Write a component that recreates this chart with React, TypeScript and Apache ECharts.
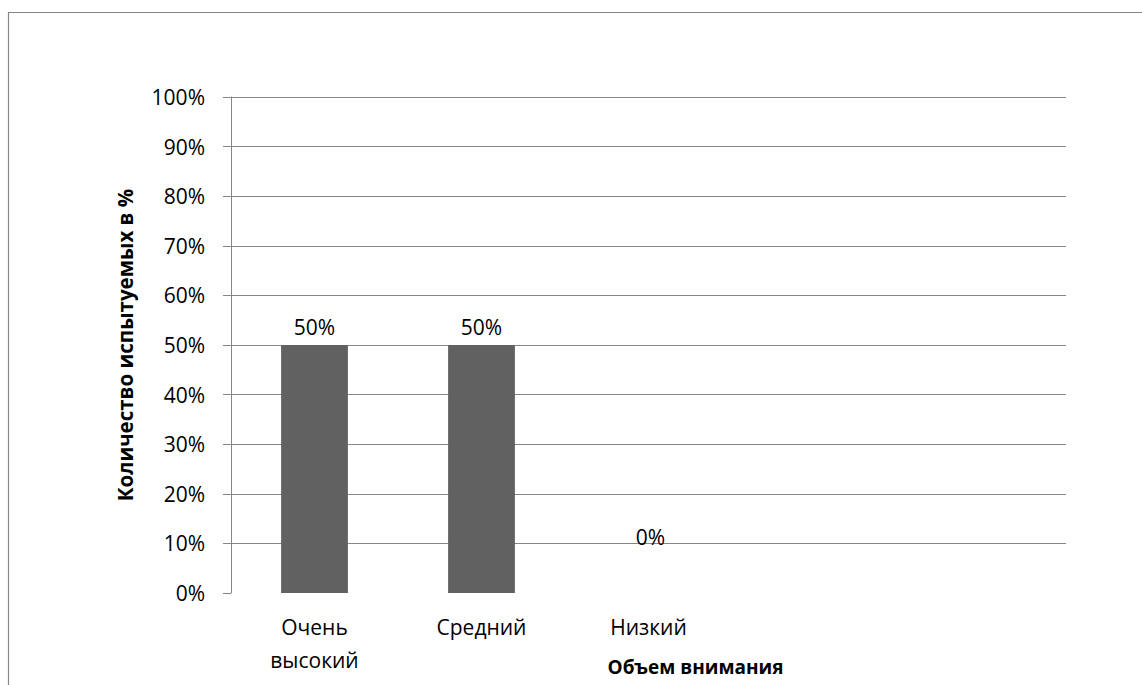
import React, { useEffect, useRef } from "react";
import * as echarts from "echarts";

const categories = ["Очень\nвысокий", "Средний", "Низкий", "", ""];
const values = [50, 50, 0];
const yTicks = [0, 10, 20, 30, 40, 50, 60, 70, 80, 90, 100];
const xTitle = "Объем внимания";
const yTitle = "Количество испытуемых в %";

const FONT = "'Open Sans', 'DejaVu Sans', sans-serif";
const GRAY = "#868686";

export default function App() {
  const ref = useRef<HTMLDivElement>(null);
  useEffect(() => {
    if (!ref.current) return;
    const chart = echarts.init(ref.current, null, { renderer: "svg" });
    const splitColors = yTicks.map((v) => (v === 0 ? "rgba(0,0,0,0)" : GRAY));
    chart.setOption({
      animation: false,
      backgroundColor: "#ffffff",
      textStyle: { fontFamily: FONT },
      graphic: [
        {
          type: "rect",
          shape: { x: 8.5, y: 12.5, width: 1400, height: 900 },
          style: { fill: "none", stroke: GRAY, lineWidth: 1.2 },
          silent: true,
        },
      ],
      grid: {
        left: 231,
        top: 97,
        right: 76,
        bottom: 92,
        containLabel: false,
        outerBoundsMode: "none",
      },
      xAxis: {
        type: "category",
        data: categories,
        axisLine: { show: false },
        axisTick: { show: false },
        axisLabel: {
          color: "#000",
          fontSize: 21,
          fontFamily: FONT,
          lineHeight: 33,
          margin: 17,
          interval: 0,
        },
        name: xTitle,
        nameLocation: "middle",
        nameGap: 64,
        nameMoveOverlap: false,
        nameTextStyle: {
          color: "#000",
          fontSize: 19,
          fontWeight: "bold",
          fontFamily: FONT,
          padding: [0, 0, 0, 94],
        },
      },
      yAxis: {
        type: "value",
        min: 0,
        max: 100,
        interval: 10,
        axisLine: { show: true, lineStyle: { color: GRAY, width: 1 } },
        axisTick: { show: true, length: 8, lineStyle: { color: GRAY, width: 1 } },
        axisLabel: {
          color: "#000",
          fontSize: 21,
          fontFamily: FONT,
          margin: 26,
          formatter: "{value}%",
        },
        splitLine: { show: true, lineStyle: { color: splitColors, width: 1 } },
        name: yTitle,
        nameLocation: "middle",
        nameGap: 96,
        nameRotate: 90,
        nameMoveOverlap: false,
        nameTextStyle: {
          color: "#000",
          fontSize: 20.5,
          fontWeight: "bold",
          fontFamily: FONT,
        },
      },
      series: [
        {
          type: "bar",
          barWidth: "40%",
          itemStyle: { color: "#616161" },
          label: {
            show: true,
            position: "top",
            distance: 8,
            color: "#000",
            fontSize: 21,
            fontFamily: FONT,
            formatter: "{c}%",
          },
          data: values.map((v) =>
            v === 0 ? { value: v, label: { offset: [2, -38] } } : v
          ),
        },
      ],
    });
    return () => chart.dispose();
  }, []);
  return (
    <div
      ref={ref}
      style={{ position: "absolute", left: 0, top: 0, width: 1142, height: 685 }}
    />
  );
}
